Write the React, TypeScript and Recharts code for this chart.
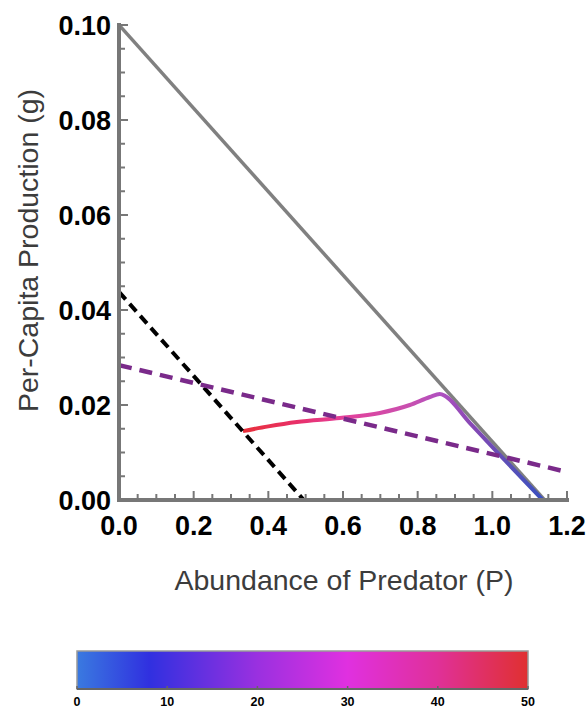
import React from 'react';
import { ComposedChart, Line, XAxis, YAxis, BarChart, Bar } from 'recharts';

const FONT = "'Liberation Sans', Arial, Helvetica, sans-serif";
const AXIS_GRAY = '#777777';

// ticks
const xMajorTicks = [0, 0.2, 0.4, 0.6, 0.8, 1.0, 1.2];
const xAllTicks = [0, 0.05, 0.1, 0.15, 0.2, 0.25, 0.3, 0.35, 0.4, 0.45, 0.5, 0.55, 0.6, 0.65, 0.7, 0.75, 0.8, 0.85, 0.9, 0.95, 1.0, 1.05, 1.1, 1.15, 1.2];
const yMajorTicks = [0, 0.02, 0.04, 0.06, 0.08, 0.1];
const yAllTicks = [0, 0.005, 0.01, 0.015, 0.02, 0.025, 0.03, 0.035, 0.04, 0.045, 0.05, 0.055, 0.06, 0.065, 0.07, 0.075, 0.08, 0.085, 0.09, 0.095, 0.1];
const colorbarTicks = [0, 10, 20, 30, 40, 50];

// series
const maxProductionP = [0, 1.14];
const maxProductionG = [0.1, 0];
const preyIsoclineP = [0, 0.495];
const preyIsoclineG = [0.0438, 0];
const predatorIsoclineP = [0, 1.2];
const predatorIsoclineG = [0.0284, 0.0059];
const trajectoryP = [0.332, 0.4, 0.4766, 0.5917, 0.6988, 0.779, 0.8327, 0.8594, 0.866, 0.94, 1.02, 1.135];
const trajectoryG = [0.0145, 0.0155, 0.01642, 0.01726, 0.01832, 0.02, 0.02168, 0.02232, 0.0222, 0.0162, 0.0095, 0.0];

// colour stops along trajectory (offset, colour)
const trajOffsets = [0, 0.184, 0.334, 0.558, 0.658, 0.77, 0.894, 1];
const trajColors = ['#e8303a', '#e8306a', '#e4409a', '#c850b0', '#b050c0', '#8448b4', '#5850b8', '#3a50c0'];

const cbOffsets = [0, 0.16, 0.4, 0.6, 0.8, 1];
const cbColors = ['#3a7ae0', '#3030e0', '#9a30e0', '#e030e0', '#e03098', '#e03030'];

const zip = (ps: number[], gs: number[]) => ps.map((P, i) => ({ P, g: gs[i] }));

const maxData = zip(maxProductionP, maxProductionG);
const preyData = zip(preyIsoclineP, preyIsoclineG);
const predData = zip(predatorIsoclineP, predatorIsoclineG);
const trajData = zip(trajectoryP, trajectoryG);
const colorbarData = [{ name: 'cb', value: colorbarTicks[colorbarTicks.length - 1] }];

const isIn = (arr: number[], v: number) => arr.some((m) => Math.abs(m - v) < 1e-9);

const XTick = (props: any) => {
  const { x, y, payload } = props;
  const v = payload.value;
  const major = isIn(xMajorTicks, v);
  return (
    <g>
      <line x1={x} x2={x} y1={y} y2={y - (major ? 9 : 6)} stroke={AXIS_GRAY} strokeWidth={2} />
      {major && (
        <text x={x} y={y + 35} textAnchor="middle" fontFamily={FONT} fontWeight="bold" fontSize={27} fill="#000">
          {v.toFixed(1)}
        </text>
      )}
    </g>
  );
};

const YTick = (props: any) => {
  const { x, y, payload } = props;
  const v = payload.value;
  const major = isIn(yMajorTicks, v);
  return (
    <g>
      <line x1={x} x2={x + (major ? 9 : 6)} y1={y} y2={y} stroke={AXIS_GRAY} strokeWidth={2} />
      {major && (
        <text x={x - 8} y={y + 9.5} textAnchor="end" fontFamily={FONT} fontWeight="bold" fontSize={27} fill="#000">
          {v.toFixed(2)}
        </text>
      )}
    </g>
  );
};

const CbTick = (props: any) => {
  const { x, y, payload } = props;
  return (
    <g>
      <line x1={x} x2={x} y1={y} y2={y - 3} stroke="#666" strokeWidth={1.5} />
      <text x={x} y={y + 17} textAnchor="middle" fontFamily={FONT} fontWeight="bold" fontSize={12.5} fill="#000">
        {payload.value}
      </text>
    </g>
  );
};

const YLabel = (props: any) => {
  const vb = props.viewBox || { x: 0, y: 0, width: 0, height: 0 };
  const cx = 28;
  const cy = vb.y + vb.height / 2 - 12;
  return (
    <text x={cx} y={cy} transform={`rotate(-90, ${cx}, ${cy})`} textAnchor="middle" dominantBaseline="central" fontFamily={FONT} fontSize={28.5} fill="#3c3c3c">
      Per-Capita Production (g)
    </text>
  );
};

const XLabel = (props: any) => {
  const vb = props.viewBox || { x: 0, y: 0, width: 0, height: 0 };
  const cx = vb.x + vb.width / 2 + 1;
  const cy = vb.y + 80;
  return (
    <text x={cx} y={cy} textAnchor="middle" dominantBaseline="central" fontFamily={FONT} fontSize={28.5} fill="#3c3c3c">
      Abundance of Predator (P)
    </text>
  );
};

export default function App() {
  return (
    <div style={{ position: 'fixed', top: 0, left: 0, width: 587, height: 710, fontFamily: FONT, background: '#fff' }}>
      <ComposedChart width={587} height={620} margin={{ top: 25, right: 20, bottom: 0, left: 0 }}>
        <defs>
          <linearGradient id="trajGrad" x1="0" y1="0" x2="1" y2="0">
            {trajOffsets.map((o, i) => (
              <stop key={i} offset={o} stopColor={trajColors[i]} />
            ))}
          </linearGradient>
        </defs>
        <XAxis
          dataKey="P"
          type="number"
          domain={[0, 1.2]}
          ticks={xAllTicks}
          interval={0}
          allowDataOverflow
          height={120}
          tickLine={false}
          tickSize={0}
          tickMargin={0}
          axisLine={{ stroke: AXIS_GRAY, strokeWidth: 4, strokeLinecap: 'square' }}
          tick={(p: any) => <XTick {...p} />}
          label={(p: any) => <XLabel {...p} />}
        />
        <YAxis
          dataKey="g"
          type="number"
          domain={[0, 0.1]}
          ticks={yAllTicks}
          interval={0}
          allowDataOverflow
          width={119}
          tickLine={false}
          tickSize={0}
          tickMargin={0}
          axisLine={{ stroke: AXIS_GRAY, strokeWidth: 4, strokeLinecap: 'square' }}
          tick={(p: any) => <YTick {...p} />}
          label={(p: any) => <YLabel {...p} />}
        />
        <Line data={maxData} dataKey="g" type="linear" stroke="#808080" strokeWidth={3.5} dot={false} activeDot={false} isAnimationActive={false} />
        <Line data={trajData} dataKey="g" type="monotone" stroke="url(#trajGrad)" strokeWidth={4} dot={false} activeDot={false} isAnimationActive={false} />
        <Line data={preyData} dataKey="g" type="linear" stroke="#000000" strokeWidth={4} strokeDasharray="10 6" dot={false} activeDot={false} isAnimationActive={false} />
        <Line data={predData} dataKey="g" type="linear" stroke="#7a2a8a" strokeWidth={4.5} strokeDasharray="13 8" dot={false} activeDot={false} isAnimationActive={false} />
      </ComposedChart>
      <BarChart width={587} height={90} data={colorbarData} layout="vertical" margin={{ top: 31, right: 59, bottom: 0, left: 77 }} barCategoryGap={0}>
        <defs>
          <linearGradient id="cbGrad" x1="0" y1="0" x2="1" y2="0">
            {cbOffsets.map((o, i) => (
              <stop key={i} offset={o} stopColor={cbColors[i]} />
            ))}
          </linearGradient>
        </defs>
        <XAxis
          type="number"
          domain={[0, 50]}
          ticks={colorbarTicks}
          interval={0}
          height={21}
          tickLine={false}
          tickSize={0}
          tickMargin={0}
          axisLine={{ stroke: '#666', strokeWidth: 2 }}
          tick={(p: any) => <CbTick {...p} />}
        />
        <YAxis type="category" dataKey="name" hide />
        <Bar dataKey="value" fill="url(#cbGrad)" stroke="#999" strokeWidth={1.5} isAnimationActive={false} />
      </BarChart>
    </div>
  );
}
